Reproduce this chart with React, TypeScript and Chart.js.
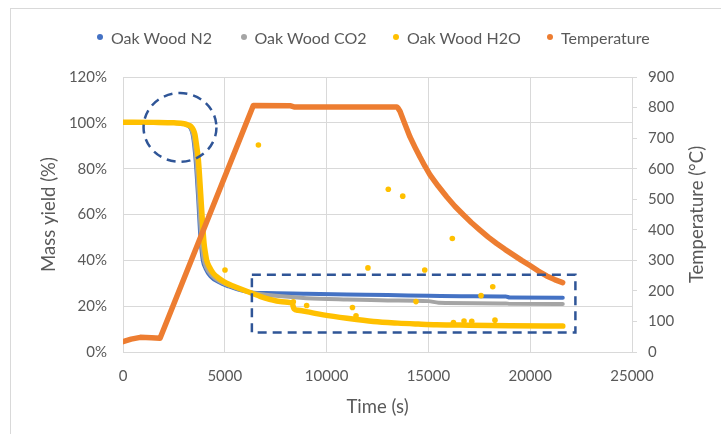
import React, { useEffect, useRef } from "react";
import { Chart, registerables } from "chart.js";

Chart.register(...registerables);

const FONT = "Lato, 'Open Sans', sans-serif";
const TEXT = "#595959";
const GRID = "#d9d9d9";

// Axis ranges / tick steps
const xRange = [0, 25000];
const xStep = 5000;
const yRange = [0, 120];
const yStep = 20;
const y2Range = [0, 900];
const y2Step = 100;

// Legend labels
const seriesNames = ["Oak Wood N2", "Oak Wood CO2", "Oak Wood H2O", "Temperature"];
const seriesColors = ["#4472C4", "#A5A5A5", "#FFC000", "#ED7D31"];

// Oak Wood N2 (time s, mass yield %)
const n2Time = [0, 1500, 2500, 3000, 3200, 3330, 3420, 3500, 3600, 3700, 3780, 3850, 3920, 4050, 4300, 4700, 5200, 5800, 6400, 7000, 9000, 11000, 13000, 15000, 17000, 18800, 19000, 21600];
const n2Yield = [100, 100, 99.9, 99.5, 98.8, 97.5, 95, 90, 80, 66, 53, 45, 40, 36.5, 33, 30.5, 28.6, 26.9, 25.9, 25.7, 25.4, 25.1, 24.9, 24.5, 24.3, 24.2, 23.8, 23.7];

// Oak Wood CO2
const co2Time = [0, 1500, 2500, 3000, 3200, 3350, 3450, 3530, 3630, 3730, 3820, 3890, 3960, 4080, 4350, 4750, 5250, 5850, 6400, 7000, 7500, 9000, 11000, 13000, 15000, 15500, 18800, 19000, 21600];
const co2Yield = [100, 100, 100, 99.5, 98.9, 97.5, 94.5, 90, 80, 66, 53, 45, 40.5, 37, 33.4, 30.8, 28.8, 27.0, 25.8, 25.0, 24.5, 23.5, 22.9, 22.5, 22.2, 21.5, 21.2, 21.0, 20.9];

// Oak Wood H2O
const h2oTime = [0, 1500, 2500, 3000, 3200, 3350, 3450, 3530, 3600, 3700, 3815, 3915, 3980, 4050, 4110, 4250, 4435, 4700, 5090, 5500, 6075, 6730, 7200, 7710, 8300, 8400, 8600, 9000, 9840, 11000, 12300, 13500, 14500, 15400, 17000, 19000, 21600];
const h2oYield = [100.3, 100.2, 100, 99.6, 99.0, 98.3, 97, 95, 91, 84, 69, 55, 47.5, 43, 40, 37, 34.3, 32.2, 30, 28.5, 26.5, 24.3, 23, 22.0, 21.4, 18.8, 18.2, 17.6, 16.2, 14.7, 13.3, 12.6, 12.2, 11.9, 11.7, 11.5, 11.3];

// Oak Wood H2O scattered readings
const h2oDotTime = [5010, 6650, 8365, 9020, 11270, 11445, 12030, 13030, 13740, 14390, 14820, 16175, 16230, 16750, 17130, 17585, 18160, 18270];
const h2oDotYield = [35.8, 90.3, 21.9, 20.3, 19.4, 15.8, 36.7, 71, 68, 22, 35.8, 49.5, 12.9, 13.5, 13.4, 24.6, 28.5, 13.9];

// Temperature (°C)
const tempTime = [0, 400, 850, 1400, 1820, 6400, 8200, 8400, 13450, 13520, 13605, 13800, 14096, 14350, 14587, 14830, 15079, 15480, 15897, 16300, 16716, 17120, 17534, 17940, 18353, 18760, 19171, 19580, 19990, 20400, 20808, 21200, 21595];
const tempValue = [34, 42, 48, 47, 45, 807, 806, 802, 802, 797, 788, 754, 704, 669, 638, 608, 580, 543, 508, 477, 449, 423, 399, 376, 355, 336, 318, 300, 283, 265, 249, 237, 227];

// Highlight annotations (data units): dashed circle [x, y, rx, ry], dashed box [x0, x1, y0, y1]
const circleNote = [2800, 98, 1790, 15];
const boxNote = [6330, 22220, 8.5, 33.7];

const legendX = [100, 243.5, 396, 550];

function pts(t: number[], v: number[]) {
  return t.map((x, i) => ({ x, y: v[i] }));
}

const notesPlugin = {
  id: "notes",
  afterDatasetsDraw(chart: any) {
    const { ctx, scales } = chart;
    const x = scales.x;
    const y = scales.y;
    ctx.save();
    ctx.strokeStyle = "#2F5597";
    ctx.lineWidth = 2.5;
    ctx.setLineDash([9, 6]);
    const cx = x.getPixelForValue(circleNote[0]);
    const cy = y.getPixelForValue(circleNote[1]);
    const rx = Math.abs(x.getPixelForValue(circleNote[0] + circleNote[2]) - cx);
    const ry = Math.abs(y.getPixelForValue(circleNote[1] + circleNote[3]) - cy);
    ctx.beginPath();
    ctx.ellipse(cx, cy, rx, ry, 0, 0, Math.PI * 2);
    ctx.stroke();
    const bx0 = x.getPixelForValue(boxNote[0]);
    const bx1 = x.getPixelForValue(boxNote[1]);
    const by0 = y.getPixelForValue(boxNote[2]);
    const by1 = y.getPixelForValue(boxNote[3]);
    ctx.beginPath();
    ctx.rect(bx0, by1, bx1 - bx0, by0 - by1);
    ctx.stroke();
    ctx.restore();
  },
  afterDraw(chart: any) {
    const { ctx } = chart;
    ctx.save();
    ctx.fillStyle = TEXT;
    ctx.font = `18.5px ${FONT}`;
    ctx.textAlign = "center";
    ctx.textBaseline = "middle";
    ctx.translate(697, (chart.chartArea.top + chart.chartArea.bottom) / 2);
    ctx.rotate(-Math.PI / 2);
    ctx.fillText("Temperature (°C)", 0, 0);
    ctx.restore();
  },
};

export default function App() {
  const ref = useRef<HTMLCanvasElement>(null);

  useEffect(() => {
    if (!ref.current) return;
    const lineBase = { pointRadius: 0, pointHoverRadius: 0, showLine: true, fill: false, borderCapStyle: "round", borderJoinStyle: "round" };
    const chart = new Chart(ref.current, {
      type: "scatter",
      data: {
        datasets: [
          { ...lineBase, label: seriesNames[0], data: pts(n2Time, n2Yield), borderColor: seriesColors[0], backgroundColor: seriesColors[0], borderWidth: 4, cubicInterpolationMode: "monotone", yAxisID: "y", order: 5 },
          { ...lineBase, label: seriesNames[1], data: pts(co2Time, co2Yield), borderColor: seriesColors[1], backgroundColor: seriesColors[1], borderWidth: 4, cubicInterpolationMode: "monotone", yAxisID: "y", order: 4 },
          { ...lineBase, label: seriesNames[2], data: pts(h2oTime, h2oYield), borderColor: seriesColors[2], backgroundColor: seriesColors[2], borderWidth: 5.5, cubicInterpolationMode: "monotone", yAxisID: "y", order: 3 },
          { label: seriesNames[2] + " points", data: pts(h2oDotTime, h2oDotYield), showLine: false, pointRadius: 2.8, pointBorderWidth: 0, backgroundColor: seriesColors[2], borderColor: seriesColors[2], yAxisID: "y", order: 2 },
          { ...lineBase, label: seriesNames[3], data: pts(tempTime, tempValue), borderColor: seriesColors[3], backgroundColor: seriesColors[3], borderWidth: 5.5, tension: 0, yAxisID: "y2", order: 1 },
        ] as any,
      },
      options: {
        responsive: false,
        animation: false,
        devicePixelRatio: 1,
        layout: { padding: { top: 77, left: 0, right: 0, bottom: 0 } },
        plugins: { legend: { display: false }, tooltip: { enabled: false }, title: { display: false } },
        scales: {
          x: {
            type: "linear",
            min: xRange[0],
            max: xRange[1],
            afterFit: (s: any) => { s.height = 82; },
            ticks: { stepSize: xStep, color: TEXT, font: { family: FONT, size: 15 }, padding: 15, maxRotation: 0, callback: (v: any) => String(v) },
            grid: { color: GRID, lineWidth: 1, drawTicks: false },
            border: { color: GRID, width: 1 },
            title: { display: true, text: "Time (s)", color: TEXT, font: { family: FONT, size: 18.5 }, padding: { top: 0, bottom: 16 } },
          },
          y: {
            type: "linear",
            position: "left",
            min: yRange[0],
            max: yRange[1],
            afterFit: (s: any) => { s.width = 123; },
            ticks: { stepSize: yStep, color: TEXT, font: { family: FONT, size: 15 }, padding: 16, callback: (v: any) => v + "%" },
            grid: { color: GRID, lineWidth: 1, drawTicks: false },
            border: { color: GRID, width: 1 },
            title: { display: true, text: "Mass yield (%)", color: TEXT, font: { family: FONT, size: 18.5 }, padding: { top: 38, bottom: 0 } },
          },
          y2: {
            type: "linear",
            position: "right",
            min: y2Range[0],
            max: y2Range[1],
            afterFit: (s: any) => { s.width = 89; },
            ticks: { stepSize: y2Step, color: TEXT, font: { family: FONT, size: 15 }, padding: 11 },
            grid: { drawOnChartArea: false, drawTicks: true, tickLength: 5, color: GRID },
            border: { color: GRID, width: 1 },
          },
        },
      } as any,
      plugins: [notesPlugin],
    });
    return () => chart.destroy();
  }, []);

  return (
    <div style={{ position: "absolute", left: 0, top: 0, width: 721, height: 434, overflow: "hidden", background: "#fff" }}>
      <div style={{ position: "absolute", left: 10, top: 8, width: 720, height: 440, borderLeft: `1.5px solid ${GRID}`, borderTop: `1.5px solid ${GRID}` }} />
      <canvas ref={ref} width={721} height={434} style={{ position: "absolute", left: 0, top: 0, width: 721, height: 434 }} />
      {seriesNames.map((name, i) => (
        <div key={name} style={{ position: "absolute", left: legendX[i] - 3, top: 27, height: 20, display: "flex", alignItems: "center", whiteSpace: "nowrap", fontFamily: FONT, fontSize: 16, color: TEXT }}>
          <span style={{ display: "inline-block", width: 6, height: 6, borderRadius: 3, background: seriesColors[i], marginRight: 8 }} />
          <span>{name}</span>
        </div>
      ))}
    </div>
  );
}
